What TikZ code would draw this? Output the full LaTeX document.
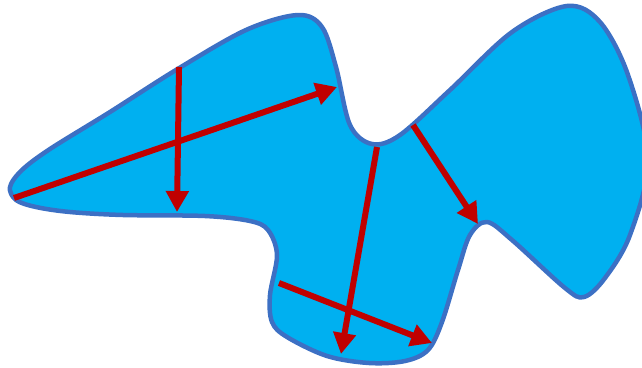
\documentclass[tikz,border=0pt]{standalone}
\usepackage{tikz}
\usetikzlibrary{arrows.meta}
\definecolor{blobblue}{RGB}{0,176,240}
\definecolor{edgeblue}{RGB}{60,112,196}
\definecolor{vecred}{RGB}{192,0,0}
\tikzset{
  blob/.style={draw=edgeblue, fill=blobblue, line width=4.5pt, line join=round},
  vec/.style={-{Triangle[width=22pt, length=21pt]}, draw=vecred, line width=6pt}
}
\begin{document}
\begin{tikzpicture}[x=1pt, y=-1pt]
  \useasboundingbox (0,0) rectangle (642,367);
  % region outline
  \draw[blob] plot[smooth cycle, tension=0.55] coordinates {
    (10,187) (22,170) (50,149) (110,112) (176,70) (246,30) (298,15) (322,27)
    (336,67) (350,125) (372,144) (400,135) (450,90) (512,32) (567,6)
    (600,22) (628,75) (648,160) (630,235) (605,278) (584,297) (565,288)
    (512,240) (487,222) (470,235) (458,270) (442,322) (428,350) (405,361)
    (369,363) (327,356) (287,337) (272,322) (270,295) (277,255) (268,230)
    (250,221) (205,216) (123,215) (70,212) (36,207) (16,200)};
  % vector end points
  \coordinate (v1s) at (179,67);
  \coordinate (v1e) at (177,212);
  \coordinate (v2s) at (14,198);
  \coordinate (v2e) at (337,87);
  \coordinate (v3s) at (377,147);
  \coordinate (v3e) at (341,354);
  \coordinate (v4s) at (413,125);
  \coordinate (v4e) at (478,224);
  \coordinate (v5s) at (279,283);
  \coordinate (v5e) at (432,343);
  \draw[vec] (v1s) -- (v1e);
  \draw[vec] (v2s) -- (v2e);
  \draw[vec] (v3s) -- (v3e);
  \draw[vec] (v4s) -- (v4e);
  \draw[vec] (v5s) -- (v5e);
\end{tikzpicture}
\end{document}
